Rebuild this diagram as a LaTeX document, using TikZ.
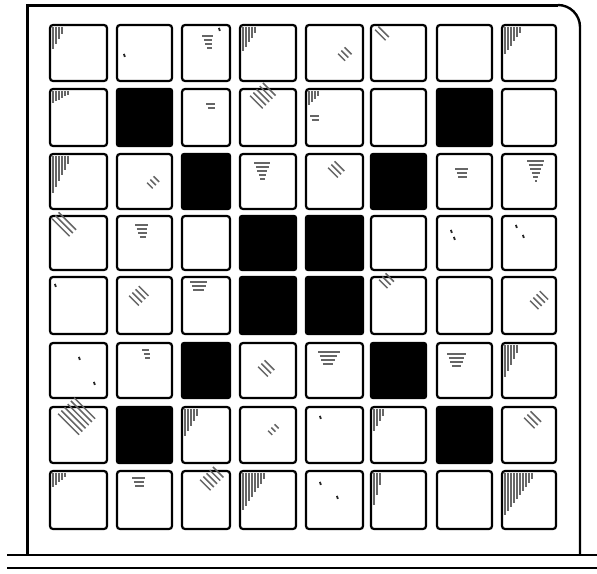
\documentclass[tikz,border=0pt]{standalone}
\tikzset{
  cell/.style={draw=black, line width=2.2pt, rounded corners=3pt, inner sep=0pt, fill=white},
  blackcell/.style={draw=black, line width=2.2pt, rounded corners=2pt, inner sep=0pt, fill=black},
  framestyle/.style={draw=black, line width=2.4pt},
  hatch/.style={draw=black!60, line width=1.5pt},
  darkhatch/.style={draw=black!85, line width=1.8pt}
}
\newcommand\vhatch[3]{%
  \begin{scope}[shift={(#1.north west)}]
    \foreach \i in {1,...,#2} \draw[hatch] ({1+3*\i},3) -- ++(0,{#3*(1-(\i-1)/#2)+2});
  \end{scope}}
\newcommand\dhatch[5]{%
  \begin{scope}[shift={(#1.north west)}]
    \foreach \i in {1,...,#4} \draw[hatch] ({#2+3.2*\i},{#3-3.2*\i+3}) -- ++({#5*0.7},{#5*0.7});
  \end{scope}}
\newcommand\hhatch[5]{%
  \begin{scope}[shift={(#1.north west)}]
    \foreach \i in {1,...,#4} \draw[hatch] ({#2+1.5*\i},{#3+4*\i}) -- ++({#5*(1-0.15*\i)},0);
  \end{scope}}
\newcommand\speck[3]{%
  \begin{scope}[shift={(#1.north west)}]
    \draw[darkhatch] (#2,#3) -- ++(1,3);
  \end{scope}}
\begin{document}
\begin{tikzpicture}[x=1pt,y=-1pt]
  \useasboundingbox (0,0) rectangle (597,573);
  \fill[white] (0,0) rectangle (597,573);
  % frame
  \coordinate (fbl) at (27,555);
  \coordinate (ftl) at (27,5);
  \coordinate (ftr) at (580,5);
  \coordinate (fbr) at (580,555);
  \draw[framestyle, line width=3pt] (fbl) -- (ftl) -- ([xshift=-22pt]ftr);
  \draw[framestyle] ([xshift=-22pt]ftr) arc[start angle=90, end angle=0, radius=22pt] -- (fbr);
  \coordinate (l1a) at (7,555);
  \coordinate (l1b) at (597,555);
  \coordinate (l2a) at (7,568);
  \coordinate (l2b) at (597,568);
  \draw[framestyle] (l1a) -- (l1b);
  \draw[framestyle, line width=2pt] (l2a) -- (l2b);
  % grid
  \foreach \c/\xl/\xr in {1/50/107, 2/117/172, 3/182/230, 4/240/296, 5/306/363, 6/371/426, 7/437/492, 8/502/556}{
    \foreach \r/\yt/\yb in {1/25/81, 2/89/146, 3/154/209, 4/216/270, 5/277/334, 6/343/398, 7/407/463, 8/471/529}{
      \pgfmathtruncatemacro\isblack{((\r>1)&&(\r<8)&&((\c==\r)||(\c+\r==9)))?1:0}
      \ifnum\isblack=1 \def\cst{blackcell}\else\def\cst{cell}\fi
      \node[\cst, minimum width={(\xr-\xl)*1pt}, minimum height={(\yb-\yt)*1pt}]
        (c\r\c) at ({(\xl+\xr)/2},{(\yt+\yb)/2}) {};
    }
  }
  % hatching marks
  \vhatch{c11}{4}{20}
  \speck{c12}{8}{30}
  \hhatch{c13}{20}{8}{4}{12}
  \speck{c13}{38}{4}
  \vhatch{c14}{5}{22}
  \dhatch{c15}{30}{30}{3}{10}
  \dhatch{c16}{2}{6}{2}{15}
  \vhatch{c18}{6}{25}
  \vhatch{c21}{6}{10}
  \hhatch{c23}{24}{12}{2}{10}
  \dhatch{c24}{8}{8}{5}{18}
  \vhatch{c25}{4}{12}
  \hhatch{c25}{4}{24}{2}{10}
  \vhatch{c31}{6}{35}
  \dhatch{c32}{28}{30}{3}{8}
  \hhatch{c34}{14}{6}{5}{18}
  \dhatch{c35}{20}{15}{3}{14}
  \hhatch{c37}{18}{12}{3}{15}
  \hhatch{c38}{25}{4}{6}{20}
  \dhatch{c41}{0}{4}{3}{25}
  \hhatch{c42}{18}{6}{4}{15}
  \speck{c47}{15}{15}
  \speck{c47}{18}{22}
  \speck{c48}{15}{10}
  \speck{c48}{22}{20}
  \speck{c51}{6}{8}
  \dhatch{c52}{10}{20}{4}{14}
  \hhatch{c53}{8}{2}{3}{20}
  \dhatch{c56}{6}{4}{3}{12}
  \dhatch{c58}{26}{25}{4}{12}
  \speck{c61}{30}{15}
  \speck{c61}{45}{40}
  \hhatch{c62}{25}{4}{3}{8}
  \dhatch{c64}{16}{25}{3}{14}
  \hhatch{c65}{12}{6}{4}{25}
  \hhatch{c67}{10}{8}{4}{22}
  \vhatch{c68}{5}{30}
  \dhatch{c71}{6}{8}{6}{30}
  \vhatch{c73}{5}{25}
  \dhatch{c74}{26}{25}{3}{6}
  \speck{c75}{15}{10}
  \vhatch{c76}{4}{20}
  \dhatch{c78}{20}{12}{3}{15}
  \vhatch{c81}{5}{12}
  \hhatch{c82}{15}{4}{3}{15}
  \dhatch{c83}{16}{10}{5}{15}
  \vhatch{c84}{8}{35}
  \speck{c85}{15}{12}
  \speck{c85}{32}{26}
  \vhatch{c86}{3}{30}
  \vhatch{c88}{10}{40}
\end{tikzpicture}
\end{document}
